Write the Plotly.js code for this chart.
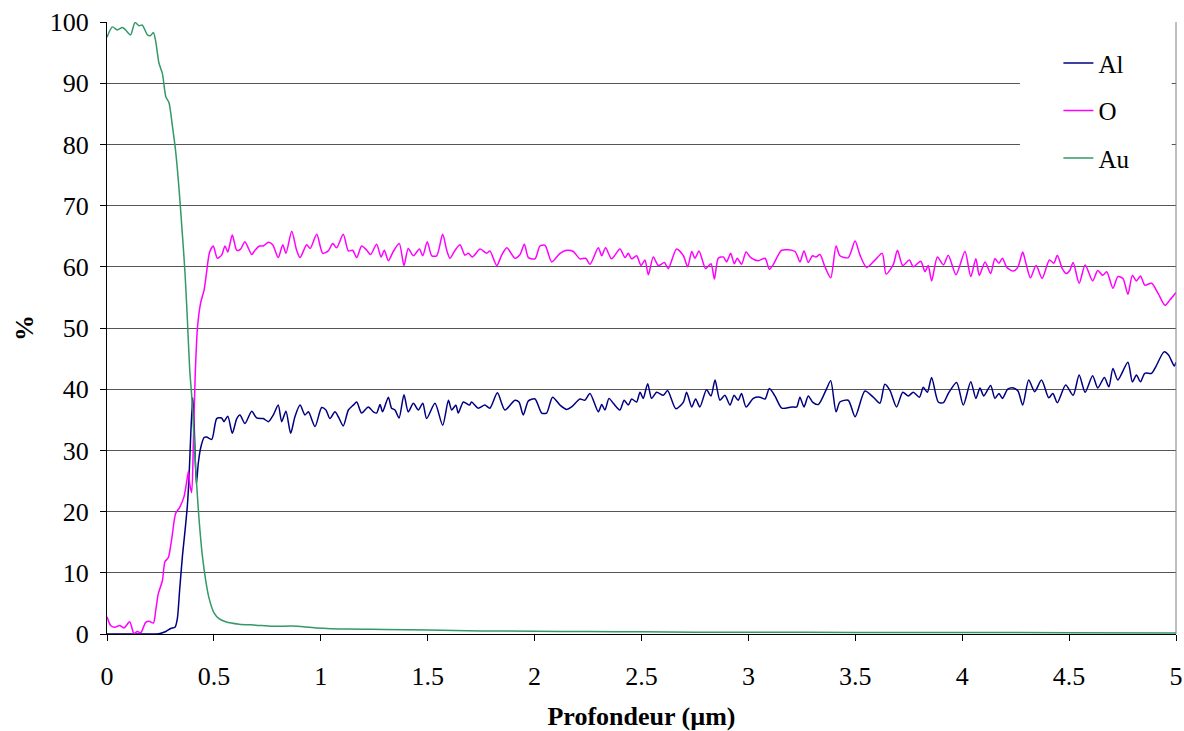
<!DOCTYPE html>
<html>
<head>
<meta charset="utf-8">
<script src="https://cdn.plot.ly/plotly-3.0.1.min.js"></script>
<style>html,body{margin:0;padding:0;background:#fff;}#chart{width:1184px;height:731px;}</style>
</head>
<body>
<div id="chart"></div>
<script>
const seriesNames = ["Al", "O", "Au"];
const xTickVals = [0, 0.5, 1, 1.5, 2, 2.5, 3, 3.5, 4, 4.5, 5];
const xTickText = ["0", "0.5", "1", "1.5", "2", "2.5", "3", "3.5", "4", "4.5", "5"];
const yTickVals = [0, 10, 20, 30, 40, 50, 60, 70, 80, 90, 100];

const alX = [0,0.1,0.2,0.243,0.275,0.298,0.318,0.329,0.34,0.353,0.365,0.376,0.384,0.392,0.401,0.407,0.418,0.427,0.438,0.454,0.466,0.49,0.513,0.536,0.547,0.565,0.586,0.607,0.622,0.645,0.677,0.7,0.731,0.755,0.778,0.801,0.817,0.837,0.859,0.879,0.903,0.926,0.942,0.973,1.004,1.024,1.043,1.066,1.082,1.105,1.129,1.152,1.168,1.191,1.222,1.246,1.261,1.277,1.289,1.316,1.331,1.347,1.366,1.389,1.409,1.433,1.456,1.477,1.495,1.534,1.57,1.597,1.612,1.632,1.643,1.667,1.695,1.705,1.736,1.767,1.791,1.826,1.861,1.908,1.927,1.947,1.971,2.002,2.033,2.056,2.084,2.119,2.15,2.173,2.212,2.235,2.259,2.298,2.314,2.329,2.348,2.368,2.399,2.419,2.438,2.454,2.477,2.493,2.508,2.529,2.547,2.571,2.602,2.622,2.661,2.696,2.711,2.735,2.753,2.773,2.804,2.825,2.844,2.867,2.89,2.914,2.933,2.952,2.968,2.989,3.023,3.054,3.078,3.098,3.124,3.156,3.203,3.226,3.241,3.26,3.28,3.3,3.327,3.366,3.385,3.41,3.428,3.467,3.499,3.545,3.584,3.615,3.638,3.662,3.693,3.722,3.748,3.771,3.8,3.818,3.837,3.857,3.888,3.912,3.935,3.974,4.005,4.04,4.064,4.083,4.101,4.133,4.153,4.172,4.188,4.213,4.24,4.261,4.283,4.311,4.339,4.371,4.405,4.424,4.445,4.484,4.519,4.547,4.575,4.61,4.634,4.665,4.686,4.705,4.728,4.775,4.796,4.815,4.834,4.854,4.886,4.906,4.944,4.965,4.992,5.0];
const alY = [0,0,0,0.05,0.4,0.9,1.1,2.5,7.3,12.8,16.9,21,25.9,32.8,38.6,34.8,24.5,27.9,30.4,32.1,32.2,31.8,35.2,35.3,34.7,35.6,32.8,35.2,35.8,34.4,36.4,35.3,35.2,34.7,35.8,37.4,34.7,36.4,32.8,35.5,37.4,35.8,36.3,33.9,37.0,36.6,35.2,36.3,35.5,34.0,36.6,37.4,37.9,36.1,37.1,36.3,36.1,37.5,36.3,38.7,36.9,36.6,35.3,39.1,36.3,37.7,36.6,37.7,35.2,37.7,34.1,38.2,36.6,37.4,36.1,37.9,37.4,37.9,36.9,37.4,36.9,39.4,36.6,38.2,37.9,35.8,38.1,38.4,36.1,36.1,38.7,37.4,36.7,37.1,38.4,38.2,39.3,36.3,37.5,36.6,38.5,37.7,36.6,38.2,37.4,38.4,37.9,39.5,38.5,40.9,38.5,39.5,39.0,39.8,36.8,37.9,39.5,37.1,38.4,37.1,39.9,38.9,41.5,38.2,39.0,37.4,39.0,38.2,39.3,37.1,38.5,38.7,38.4,40.1,38.9,36.9,37.1,37.1,38.7,37.1,38.9,37.9,37.5,40.1,41.4,36.3,37.9,38.2,35.5,39.7,38.7,37.7,40.8,39.8,37.1,39.5,38.9,39.5,38.7,40.3,39.5,41.9,37.9,37.8,39.3,41.1,37.4,41.2,38.5,40.2,38.9,40.6,38.5,39.3,38.5,40.0,40.2,39.7,37.4,41.5,39.6,41.5,38.6,39.3,37.8,40.7,39.0,42.3,39.5,42.2,40.2,41.9,40.4,43.4,41.5,44.4,41.2,42.3,41.2,42.6,42.6,43.7,46.1,45.6,43.8,44.4];

const oX = [0,0.017,0.037,0.059,0.08,0.106,0.126,0.142,0.158,0.181,0.197,0.217,0.228,0.24,0.259,0.271,0.287,0.303,0.321,0.34,0.36,0.371,0.381,0.387,0.396,0.404,0.412,0.423,0.438,0.454,0.465,0.48,0.497,0.516,0.536,0.552,0.565,0.586,0.607,0.625,0.645,0.677,0.692,0.713,0.731,0.755,0.775,0.801,0.822,0.837,0.864,0.887,0.903,0.934,0.95,0.981,1.009,1.035,1.056,1.074,1.105,1.129,1.149,1.168,1.191,1.215,1.233,1.261,1.282,1.297,1.316,1.339,1.367,1.389,1.409,1.433,1.461,1.477,1.498,1.519,1.542,1.57,1.589,1.604,1.628,1.651,1.674,1.69,1.709,1.745,1.776,1.791,1.823,1.846,1.87,1.908,1.932,1.952,1.971,2.002,2.025,2.049,2.08,2.119,2.15,2.181,2.212,2.239,2.259,2.298,2.314,2.332,2.36,2.399,2.423,2.438,2.454,2.477,2.498,2.516,2.532,2.555,2.579,2.607,2.625,2.664,2.696,2.716,2.735,2.75,2.769,2.8,2.825,2.841,2.859,2.883,2.898,2.917,2.934,2.948,2.968,2.989,3.011,3.046,3.078,3.098,3.117,3.156,3.218,3.241,3.26,3.28,3.3,3.316,3.335,3.358,3.385,3.41,3.428,3.467,3.499,3.522,3.553,3.592,3.626,3.644,3.678,3.697,3.722,3.753,3.771,3.806,3.826,3.841,3.857,3.884,3.912,3.935,3.971,4.013,4.04,4.064,4.08,4.107,4.133,4.153,4.172,4.188,4.209,4.24,4.261,4.283,4.298,4.319,4.346,4.374,4.408,4.429,4.445,4.468,4.487,4.503,4.519,4.547,4.575,4.61,4.634,4.657,4.676,4.705,4.728,4.752,4.775,4.796,4.815,4.834,4.854,4.886,4.917,4.949,4.972,5.0];
const oY = [2.8,1.4,1.1,1.4,1.0,2.0,0.1,0.4,0.2,1.9,2.1,1.8,3.9,6.6,8.7,11.8,12.5,15.6,19.7,20.7,22.4,24.5,26.6,24.5,23.1,31.4,41.7,50,54.1,56.2,58.9,62.4,63.4,61.4,61.9,63.4,62.4,65.2,62.7,62.9,64.1,62.0,62.7,63.4,63.4,64.0,63.6,61.5,63.6,62.2,65.8,62.7,61.5,63.6,63.0,65.3,62.2,62.6,63.8,63.1,65.3,62.6,62.7,61.5,63.4,62.7,62.0,63.7,61.6,62.7,61.0,62.5,63.8,60.2,63.0,61.8,62.9,61.8,64.1,61.8,61.8,65.3,62.7,61.4,62.7,63.6,61.9,62.2,61.6,62.9,62.2,62.6,60.2,61.9,63.1,61.4,62.0,63.7,61.5,61.3,63.4,63.5,60.8,62.2,62.7,62.5,61.3,61.4,60.4,63.1,61.8,63.1,61.3,62.9,61.5,62.2,61.3,61.8,60.2,61.1,58.7,61.6,60.2,60.7,59.7,62.9,61.8,60.0,62.5,61.4,62.6,59.7,60.5,58.0,61.4,61.6,60.8,62.2,60.5,61.4,60.4,62.4,61.5,61.0,61.4,59.6,60.4,62.7,62.5,60.8,62.6,60.7,61.8,61.6,62.0,60.0,58.2,63.4,61.8,61.5,64.2,61.9,59.9,61.1,62.2,58.8,60.4,62.7,60.2,61.1,60.0,60.9,59.2,60.2,57.7,61.6,60.3,61.9,58.7,62.5,58.4,61.3,58.6,60.8,58.9,61.3,60.6,61.4,59.9,59.3,60.0,62.4,60.6,58.2,60.2,58.1,61.1,60.6,61.9,59.7,58.9,59.4,60.7,57.3,60.3,57.7,59.4,58.6,59.2,56.5,58.4,58.1,55.5,58.6,57.7,58.5,57.0,57.3,55.6,53.7,54.6,55.8];

const auX = [0,0.025,0.048,0.072,0.087,0.11,0.131,0.15,0.165,0.189,0.204,0.217,0.228,0.243,0.259,0.275,0.29,0.306,0.321,0.337,0.353,0.365,0.376,0.387,0.396,0.407,0.418,0.43,0.446,0.462,0.477,0.5,0.524,0.555,0.618,0.696,0.774,0.867,0.977,1.13,1.3,1.5,1.75,2.0,2.25,2.5,2.75,3.0,3.5,4.0,4.5,5.0];
const auY = [97.5,99.2,98.7,99.1,98.7,97.9,99.9,99.4,99.5,97.9,97.8,98.3,96.8,93.3,91.6,87.8,86.8,83,78.9,72.7,65.1,58.9,51.3,43.1,39,32.1,25.2,19,12.8,8.7,5.9,3.5,2.5,2.0,1.6,1.45,1.25,1.3,1.0,0.8,0.75,0.65,0.5,0.45,0.4,0.35,0.3,0.3,0.25,0.25,0.2,0.15];

const FONT = "'Liberation Serif', serif";
const colors = ["#000080", "#FF00FF", "#339966"];
const xs = [alX, oX, auX];
const ys = [alY, oY, auY];

const traces = seriesNames.map((name, i) => ({
  type: 'scatter', mode: 'lines', name: name,
  x: xs[i], y: ys[i],
  legendgroup: 'g' + i,
  line: {color: colors[i], width: 1.5, shape: 'spline', smoothing: 0.7},
  hoverinfo: 'x+y+name'
}));

const layout = {
  width: 1184, height: 731,
  margin: {l: 107, r: 8, t: 22, b: 97},
  paper_bgcolor: '#ffffff', plot_bgcolor: '#ffffff',
  font: {family: FONT, size: 26, color: '#000'},
  showlegend: true,
  legend: {
    x: 0.89, xanchor: 'left', y: 0.97, yanchor: 'top',
    bgcolor: 'rgba(0,0,0,0)', borderwidth: 0,
    font: {family: FONT, size: 25, color: '#000'},
    traceorder: 'grouped', tracegroupgap: 12
  },
  xaxis: {
    range: [0, 5], tickvals: xTickVals, ticktext: xTickText,
    ticks: 'outside', ticklen: 6, tickwidth: 1, tickcolor: '#000',
    showline: true, linecolor: '#000', linewidth: 1,
    showgrid: false, zeroline: false, ticklabelstandoff: 13,
    tickfont: {family: FONT, size: 26, color: '#000'},
    title: {text: '<b>Profondeur (µm)</b>', font: {family: FONT, size: 26, color: '#000'}, standoff: 16}
  },
  yaxis: {
    range: [0, 100], tickvals: yTickVals,
    ticks: 'outside', ticklen: 6, tickwidth: 1, tickcolor: '#000',
    showline: true, linecolor: '#000', linewidth: 1,
    showgrid: true, gridcolor: '#555555', gridwidth: 1, zeroline: false,
    ticklabelstandoff: 6,
    tickfont: {family: FONT, size: 26, color: '#000'},
    title: {text: '<b>%</b>', font: {family: FONT, size: 26, color: '#000'}, standoff: 8}
  },
  shapes: [
    {type: 'rect', xref: 'x', yref: 'y', x0: 4.27, x1: 4.98, y0: 71.5, y1: 99.6,
     fillcolor: '#ffffff', line: {width: 0}, layer: 'above'},
    {type: 'line', xref: 'paper', yref: 'paper', x0: 1, x1: 1, y0: 0, y1: 1,
     line: {color: '#808080', width: 1}}
  ]
};

Plotly.newPlot('chart', traces, layout, {staticPlot: true, displayModeBar: false});
</script>
</body>
</html>
